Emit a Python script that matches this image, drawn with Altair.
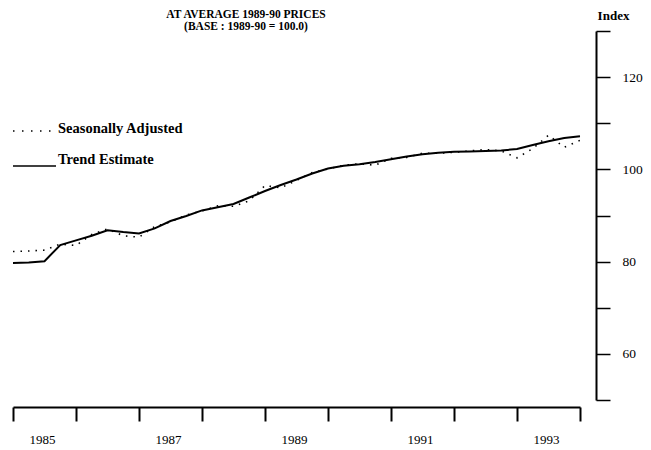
import altair as alt
import pandas as pd

# Quarterly observations, 1985 Q1 .. 1994 Q1 (time in decimal years)
quarters = [1985 + i * 0.25 for i in range(37)]
trend = [79.7, 79.8, 80.1, 83.6, 84.6, 85.6, 86.8, 86.4, 86.1, 87.2,
         88.8, 89.9, 91.1, 91.8, 92.5, 93.9, 95.3, 96.6, 97.8, 99.1,
         100.2, 100.8, 101.1, 101.6, 102.2, 102.8, 103.3, 103.6, 103.8, 103.9,
         104.0, 104.1, 104.4, 105.3, 106.1, 106.8, 107.2]
seas_adj = [82.2, 82.3, 82.5, 83.8, 83.5, 85.9, 87.1, 85.6, 85.3, 87.6,
            88.6, 90.1, 91.0, 92.1, 92.0, 93.2, 96.5, 96.0, 97.6, 99.3,
            100.1, 100.9, 101.2, 100.9, 102.4, 102.6, 103.5, 103.5, 103.7, 104.0,
            104.3, 104.0, 102.5, 104.5, 107.4, 104.8, 106.3]

year_ticks = list(range(1985, 1995))
index_ticks = list(range(50, 131, 10))
title_lines = ["AT AVERAGE 1989-90 PRICES", "(BASE : 1989-90 = 100.0)"]
legend_labels = ["Seasonally Adjusted", "Trend Estimate"]

df = pd.DataFrame({"t": quarters, "trend": trend, "sa": seas_adj})
one = pd.DataFrame({"k": [0]})

SERIF = "Liberation Serif"

x_scale = alt.Scale(domain=[1985, 1994], nice=False, zero=False)
x_axis = alt.Axis(values=year_ticks, title=None, grid=False,
                  labelExpr="(datum.value % 2 == 1 && datum.value < 1994) ? toString(datum.value) : ''",
                  labelOffset=29, labelPadding=12, labelFont=SERIF, labelFontSize=13,
                  labelColor="black", tickSize=14, tickWidth=2, tickColor="black",
                  domainColor="black", domainWidth=2, offset=7, labelFlush=False)
y_scale = alt.Scale(domain=[50, 130], nice=False, zero=False)
y_axis = alt.Axis(orient="right", values=index_ticks, grid=False, offset=16,
                  labelExpr="(datum.value % 20 == 0 && datum.value > 50 && datum.value < 130) ? toString(datum.value) : ''",
                  labelFont=SERIF, labelFontSize=13.5, labelColor="black", labelAlign="left",
                  labelPadding=12, tickSize=14, tickWidth=1.5, tickColor="black",
                  domainColor="black", domainWidth=2,
                  title="Index", titleAngle=0, titleX=17, titleY=-16, titleAlign="center",
                  titleBaseline="middle", titleFont=SERIF, titleFontSize=13,
                  titleFontWeight="bold", titleColor="black")

base = alt.Chart(df)
sa_line = base.mark_line(color="black", strokeWidth=1.6, strokeDash=[1.5, 6]).encode(
    x=alt.X("t:Q", scale=x_scale, axis=x_axis),
    y=alt.Y("sa:Q", scale=y_scale, axis=y_axis))
trend_line = base.mark_line(color="black", strokeWidth=2).encode(
    x=alt.X("t:Q", scale=x_scale, axis=x_axis),
    y=alt.Y("trend:Q", scale=y_scale, axis=y_axis))

def label(text, x, y, align, size):
    return alt.Chart(one).mark_text(font=SERIF, fontSize=size, fontWeight="bold", color="black",
                                    align=align, baseline="middle", text=text).encode(
        x=alt.value(x), y=alt.value(y))

title1 = label(title_lines[0], 233, -16, "center", 11.5)
title2 = label(title_lines[1], 233, -4, "center", 11.5)
leg1 = label(legend_labels[0], 45, 98, "left", 14.5)
leg2 = label(legend_labels[1], 45, 129, "left", 14.5)

leg_dot = alt.Chart(one).mark_rule(color="black", strokeWidth=1.6, strokeDash=[1.5, 7.5]).encode(
    x=alt.value(0), x2=alt.value(42), y=alt.value(100))
leg_solid = alt.Chart(one).mark_rule(color="black", strokeWidth=1.5).encode(
    x=alt.value(0), x2=alt.value(43), y=alt.value(135))

chart = alt.layer(sa_line, trend_line, title1, title2, leg1, leg2, leg_dot, leg_solid).properties(
    width=567, height=369,
    autosize=alt.AutoSizeParams(type="none"),
    padding={"left": 5, "top": 23, "right": 63, "bottom": 50},
    background="white",
).configure_view(stroke=None)

chart.save("out.html", embed_options={"renderer": "svg", "actions": False})
